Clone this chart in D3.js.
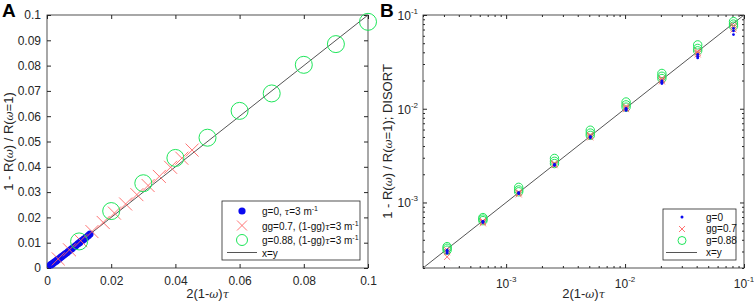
<!DOCTYPE html>
<html>
<head>
<meta charset="utf-8">
<script src="https://cdn.jsdelivr.net/npm/d3@7"></script>
<style>
  body { margin: 0; background: #fff; }
  svg { font-family: "Liberation Sans", Arial, sans-serif; }
  .tick text { fill: #262626; }
</style>
</head>
<body>
<div id="chart"></div>
<script>
// ---- panel A data ----
var aBlueX = [0.0011, 0.0015, 0.0019, 0.0024, 0.0029, 0.0033, 0.0038, 0.0043, 0.0047, 0.0052, 0.0057, 0.0062, 0.0067, 0.0073, 0.0078, 0.0084, 0.009, 0.0096, 0.0102, 0.0109, 0.0115, 0.0122, 0.0129, 0.0134];
var aBlueY = [0.0012, 0.0015, 0.0019, 0.0024, 0.0028, 0.0033, 0.0037, 0.0042, 0.0046, 0.0051, 0.0056, 0.006, 0.0066, 0.0072, 0.0077, 0.0083, 0.0089, 0.0095, 0.0101, 0.0108, 0.0114, 0.0121, 0.0128, 0.0134];
var aRedX = [0.0035, 0.007, 0.0105, 0.014, 0.0175, 0.021, 0.0245, 0.028, 0.0315, 0.035, 0.0385, 0.042, 0.0452];
var aRedY = [0.0036, 0.0072, 0.0108, 0.0144, 0.018, 0.0217, 0.0253, 0.029, 0.0326, 0.0362, 0.0398, 0.0434, 0.0466];
var aGreenX = [0.01, 0.02, 0.03, 0.04, 0.05, 0.06, 0.07, 0.08, 0.09, 0.1];
var aGreenY = [0.0105, 0.0225, 0.0335, 0.0435, 0.0515, 0.0621, 0.069, 0.0803, 0.0885, 0.0973];
var aTicksX = [0, 0.02, 0.04, 0.06, 0.08, 0.1];
var aTicksY = [0, 0.01, 0.02, 0.03, 0.04, 0.05, 0.06, 0.07, 0.08, 0.09, 0.1];

// ---- panel B data (three runs per x) ----
var bX = [3.19e-4, 6.38e-4, 1.275e-3, 2.55e-3, 5.1e-3, 1.02e-2, 2.04e-2, 4.08e-2, 8.16e-2];
var bBlue = [[2.88e-4, 3.0e-4, 3.1e-4], [6.1e-4, 6.25e-4, 6.3e-4], [1.24e-3, 1.26e-3, 1.27e-3], [2.48e-3, 2.52e-3, 2.55e-3], [4.9e-3, 5.0e-3, 5.05e-3], [0.0096, 0.0099, 0.0101], [0.0186, 0.0192, 0.0198], [0.0348, 0.0362, 0.038], [0.0618, 0.0676, 0.072]];
var bRed = [[2.63e-4, 2.95e-4, 3.1e-4], [6.0e-4, 6.2e-4, 6.35e-4], [1.22e-3, 1.26e-3, 1.29e-3], [2.5e-3, 2.56e-3, 2.62e-3], [4.95e-3, 5.1e-3, 5.25e-3], [0.0099, 0.0102, 0.0106], [0.0196, 0.0203, 0.021], [0.038, 0.0395, 0.041], [0.07, 0.0735, 0.077]];
var bGreen = [[3.1e-4, 3.25e-4, 3.38e-4], [6.4e-4, 6.65e-4, 6.9e-4], [1.3e-3, 1.36e-3, 1.45e-3], [2.6e-3, 2.75e-3, 2.95e-3], [5.2e-3, 5.5e-3, 5.9e-3], [0.0104, 0.011, 0.0118], [0.021, 0.0222, 0.0238], [0.0415, 0.044, 0.048], [0.076, 0.080, 0.085]];
var bDomain = [2e-4, 0.1];
var bMajor = [1e-3, 1e-2, 1e-1];
var bExp = ["-3", "-2", "-1"];

var blue = "#0a0af0", red = "#ff6464", green = "#1ee65a", axisColor = "#262626", lineColor = "#555";

var svg = d3.select("#chart").append("svg")
  .attr("width", 754)
  .attr("height", 305);

function cross(g, cx, cy, s, w) {
  g.append("path")
    .attr("d", "M" + (cx - s) + "," + (cy - s) + "L" + (cx + s) + "," + (cy + s) + "M" + (cx - s) + "," + (cy + s) + "L" + (cx + s) + "," + (cy - s))
    .attr("stroke", red)
    .attr("stroke-width", w)
    .attr("fill", "none");
}

function boxAxes(g, w, h, xAxis, yAxis, xTop, yRight) {
  g.append("g").attr("transform", "translate(0," + h + ")").call(xAxis);
  g.append("g").call(yAxis);
  g.append("g").call(xTop);
  g.append("g").attr("transform", "translate(" + w + ",0)").call(yRight);
  g.selectAll(".domain").remove();
  g.selectAll(".tick line").attr("stroke", axisColor);
  g.append("rect")
    .attr("width", w).attr("height", h)
    .attr("fill", "none").attr("stroke", axisColor).attr("stroke-width", 0.8);
}

function greek(t, ch) {
  t.append("tspan").attr("font-family", "DejaVu Serif, serif").attr("font-style", "italic")
    .attr("font-size", "0.85em").text(ch);
}

function xTitle(left, w) {
  var xl = svg.append("text").attr("x", left + w / 2).attr("y", 298).attr("text-anchor", "middle")
    .attr("font-size", 13).attr("fill", "#262626");
  xl.append("tspan").text("2(1-");
  greek(xl, "\u03c9");
  xl.append("tspan").text(")");
  greek(xl, "\u03c4");
}

function yTitle(cx, cy, tail) {
  var yl = svg.append("text").attr("transform", "translate(" + cx + "," + cy + ") rotate(-90)")
    .attr("text-anchor", "middle").attr("font-size", 13).attr("fill", "#262626");
  yl.append("tspan").text("1 - R(");
  greek(yl, "\u03c9");
  yl.append("tspan").text(") / R(");
  greek(yl, "\u03c9");
  yl.append("tspan").text(tail);
}

// ================= Panel A =================
(function(){
  var left = 47, top = 15, w = 321, h = 253;
  var g = svg.append("g").attr("transform", "translate(" + left + "," + top + ")");

  var x = d3.scaleLinear().domain([0, 0.1]).range([0, w]);
  var y = d3.scaleLinear().domain([0, 0.1]).range([h, 0]);
  var fmt = function(d){ return d3.format("~g")(d); };

  boxAxes(g, w, h,
    d3.axisBottom(x).tickValues(aTicksX).tickSize(-4).tickPadding(8).tickFormat(fmt),
    d3.axisLeft(y).tickValues(aTicksY).tickSize(-4).tickPadding(6).tickFormat(fmt),
    d3.axisTop(x).tickValues(aTicksX).tickSize(-4).tickFormat(""),
    d3.axisRight(y).tickValues(aTicksY).tickSize(-4).tickFormat(""));
  g.selectAll(".tick text").attr("font-size", 12).attr("font-family", "Liberation Sans, Arial, sans-serif");

  g.append("line")
    .attr("x1", x(0)).attr("y1", y(0)).attr("x2", x(0.1)).attr("y2", y(0.1))
    .attr("stroke", lineColor).attr("stroke-width", 1);

  g.selectAll("circle.blue")
    .data(aBlueX)
    .enter().append("circle")
    .attr("class", "blue")
    .attr("cx", function(d){ return x(d); })
    .attr("cy", function(d, i){ return y(aBlueY[i]); })
    .attr("r", 3.6)
    .attr("fill", blue);

  aRedX.forEach(function(d, i){ cross(g, x(d), y(aRedY[i]), 6.5, 0.9); });

  g.selectAll("circle.green")
    .data(aGreenX)
    .enter().append("circle")
    .attr("class", "green")
    .attr("cx", function(d){ return x(d); })
    .attr("cy", function(d, i){ return y(aGreenY[i]); })
    .attr("r", 8.5)
    .attr("fill", "none")
    .attr("stroke", green)
    .attr("stroke-width", 1);

  // legend
  var lg = svg.append("g").attr("font-size", 10).attr("fill", "#111");
  lg.append("rect").attr("x", 222).attr("y", 201).attr("width", 138).attr("height", 59)
    .attr("fill", "#fff").attr("stroke", axisColor).attr("stroke-width", 0.8);
  lg.append("circle").attr("cx", 242).attr("cy", 211).attr("r", 3.6).attr("fill", blue);
  cross(lg, 242, 225.5, 5, 0.9);
  lg.append("circle").attr("cx", 242).attr("cy", 240).attr("r", 5.5).attr("fill", "none").attr("stroke", green);
  lg.append("line").attr("x1", 227).attr("x2", 257).attr("y1", 252.5).attr("y2", 252.5).attr("stroke", lineColor);

  var rows = [
    ["g=0, ", "\u03c4", "=3 m"],
    ["gg=0.7, (1-gg)", "\u03c4", "=3 m"],
    ["g=0.88, (1-gg)", "\u03c4", "=3 m"]
  ];
  rows.forEach(function(r, i){
    var t = lg.append("text").attr("x", 262).attr("y", 215 + i * 14.5);
    t.append("tspan").text(r[0]);
    greek(t, r[1]);
    t.append("tspan").text(r[2]);
    t.append("tspan").attr("font-size", 7).attr("dy", -4).text("-1");
  });
  lg.append("text").attr("x", 262).attr("y", 256.5).text("x=y");

  xTitle(left, w);
  yTitle(13, top + h / 2, "=1)");

  svg.append("text").attr("x", 2).attr("y", 17).attr("font-size", 19).attr("font-weight", "bold")
    .attr("font-family", "Liberation Sans, Arial, sans-serif").text("A");
})();

// ================= Panel B =================
(function(){
  var left = 423, top = 15, w = 321, h = 253;
  var g = svg.append("g").attr("transform", "translate(" + left + "," + top + ")");

  var x = d3.scaleLog().domain(bDomain).range([0, w]);
  var y = d3.scaleLog().domain(bDomain).range([h, 0]);
  var minor = x.ticks().filter(function(d){ return bMajor.indexOf(d) < 0; });

  boxAxes(g, w, h,
    d3.axisBottom(x).tickValues(bMajor).tickSize(-4).tickFormat(""),
    d3.axisLeft(y).tickValues(bMajor).tickSize(-4).tickFormat(""),
    d3.axisTop(x).tickValues(bMajor).tickSize(-4).tickFormat(""),
    d3.axisRight(y).tickValues(bMajor).tickSize(-4).tickFormat(""));
  [d3.axisBottom(x), d3.axisTop(x)].forEach(function(ax, k){
    g.append("g").attr("transform", "translate(0," + (k ? 0 : h) + ")")
      .call(ax.tickValues(minor).tickSize(-2).tickFormat(""))
      .call(function(s){ s.select(".domain").remove(); s.selectAll("line").attr("stroke", axisColor); });
  });
  [d3.axisLeft(y), d3.axisRight(y)].forEach(function(ax, k){
    g.append("g").attr("transform", "translate(" + (k ? w : 0) + ",0)")
      .call(ax.tickValues(minor).tickSize(-2).tickFormat(""))
      .call(function(s){ s.select(".domain").remove(); s.selectAll("line").attr("stroke", axisColor); });
  });

  // power-of-ten labels
  bMajor.forEach(function(d, i){
    var tx = g.append("text").attr("x", x(d)).attr("y", h + 20).attr("text-anchor", "middle")
      .attr("font-size", 12).attr("fill", axisColor);
    tx.append("tspan").text("10");
    tx.append("tspan").attr("font-size", 8).attr("dy", -6).text(bExp[i]);
    var ty = g.append("text").attr("x", -5).attr("y", y(d) + 5).attr("text-anchor", "end")
      .attr("font-size", 12).attr("fill", axisColor);
    ty.append("tspan").text("10");
    ty.append("tspan").attr("font-size", 8).attr("dy", -6).text(bExp[i]);
  });

  g.append("line")
    .attr("x1", x(bDomain[0])).attr("y1", y(bDomain[0])).attr("x2", x(bDomain[1])).attr("y2", y(bDomain[1]))
    .attr("stroke", lineColor).attr("stroke-width", 1);

  bX.forEach(function(xv, i){
    bGreen[i].forEach(function(v){
      g.append("circle").attr("cx", x(xv)).attr("cy", y(v)).attr("r", 4.2)
        .attr("fill", "none").attr("stroke", green).attr("stroke-width", 1);
    });
    bRed[i].forEach(function(v){ cross(g, x(xv), y(v), 3, 0.9); });
    bBlue[i].forEach(function(v){
      g.append("circle").attr("cx", x(xv)).attr("cy", y(v)).attr("r", 1.4).attr("fill", blue);
    });
  });

  // legend
  var lg = svg.append("g").attr("font-size", 10).attr("fill", "#111");
  lg.append("rect").attr("x", 663).attr("y", 209).attr("width", 73).attr("height", 51)
    .attr("fill", "#fff").attr("stroke", axisColor).attr("stroke-width", 0.8);
  lg.append("circle").attr("cx", 682).attr("cy", 217).attr("r", 1.5).attr("fill", blue);
  cross(lg, 682, 229, 3, 0.9);
  lg.append("circle").attr("cx", 682).attr("cy", 240.5).attr("r", 4).attr("fill", "none").attr("stroke", green);
  lg.append("line").attr("x1", 666).attr("x2", 697).attr("y1", 252.5).attr("y2", 252.5).attr("stroke", lineColor);
  ["g=0", "gg=0.7", "g=0.88", "x=y"].forEach(function(t, i){
    lg.append("text").attr("x", 706).attr("y", 220.5 + i * 11.8).text(t);
  });

  xTitle(left, w);
  yTitle(392, top + h / 2, "=1); DISORT");

  svg.append("text").attr("x", 380).attr("y", 17).attr("font-size", 19).attr("font-weight", "bold")
    .attr("font-family", "Liberation Sans, Arial, sans-serif").text("B");
})();
</script>
</body>
</html>
